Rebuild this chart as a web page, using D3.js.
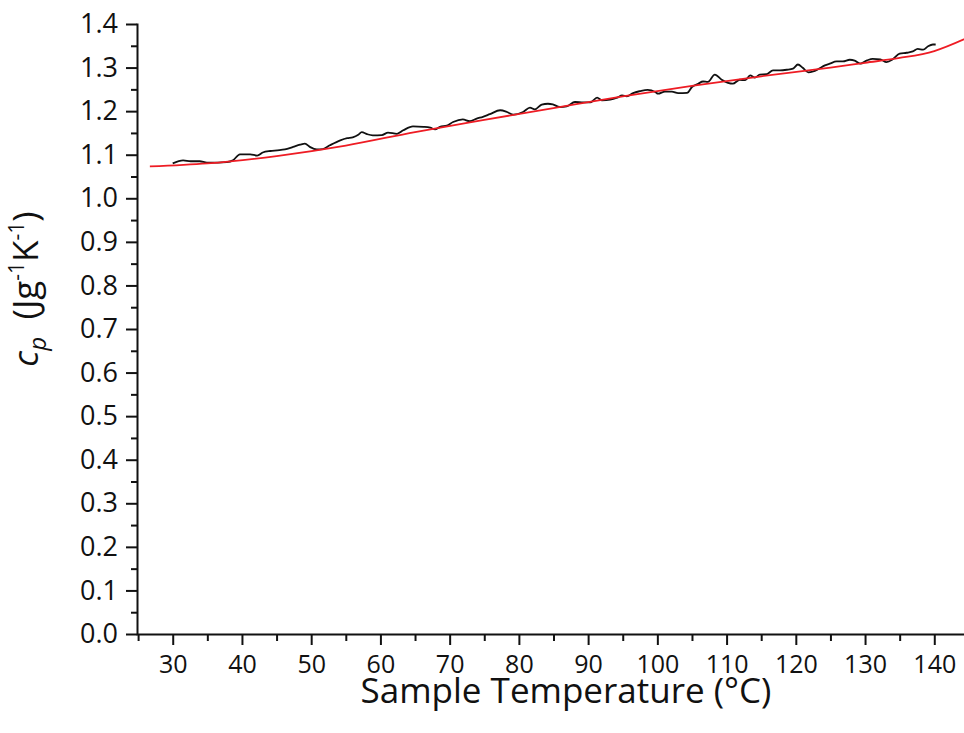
<!DOCTYPE html>
<html><head><meta charset="utf-8">
<script src="https://cdn.jsdelivr.net/npm/d3@7"></script>
<style>
body{margin:0;background:#fff;}
text{font-family:"Open Sans",sans-serif;fill:#111;}
</style></head><body>
<svg id="chart" width="964" height="733"></svg>
<script>
// measured curve (black)
const temps = [30.0,31.5,32.6,33.9,34.95,36.5,37.8,38.7,39.7,41.2,42.2,43.0,44.1,45.1,46.2,47.4,48.4,49.1,49.8,50.8,51.7,52.7,54.2,55.2,56.0,56.8,57.3,58.1,58.9,60.2,61.1,62.4,63.3,64.7,66.2,67.2,67.9,68.6,69.6,70.5,71.9,72.9,73.9,74.8,75.8,77.3,78.3,79.2,80.6,81.6,82.3,83.3,84.2,84.9,85.9,86.9,88.1,89.3,90.3,91.3,92.0,93.2,94.2,94.9,95.6,96.5,97.5,98.6,99.7,100.1,101.1,102.1,103.0,104.3,105.0,105.9,106.6,107.3,108.3,109.3,110.2,110.9,111.9,112.7,113.4,114.1,114.8,115.8,116.7,117.7,118.7,119.6,120.3,121.0,121.8,122.5,123.2,124.2,124.9,125.9,126.8,127.8,128.5,129.3,130.3,131.1,132.2,133.1,134.0,135.0,136.0,136.9,137.6,138.4,139.1,139.8,140.2];
const cpMeasured = [1.080,1.087,1.085,1.085,1.082,1.082,1.083,1.087,1.101,1.101,1.098,1.105,1.1085,1.110,1.112,1.118,1.123,1.1254,1.118,1.112,1.113,1.1216,1.133,1.138,1.140,1.146,1.152,1.147,1.1445,1.145,1.1506,1.148,1.156,1.165,1.164,1.162,1.158,1.164,1.167,1.175,1.181,1.177,1.183,1.187,1.193,1.202,1.198,1.192,1.198,1.208,1.204,1.215,1.217,1.2155,1.2095,1.211,1.221,1.220,1.220,1.231,1.2248,1.2263,1.231,1.236,1.234,1.2415,1.246,1.249,1.244,1.240,1.245,1.245,1.2415,1.242,1.2555,1.263,1.268,1.267,1.284,1.272,1.265,1.263,1.272,1.271,1.282,1.277,1.284,1.285,1.2936,1.2936,1.295,1.2975,1.307,1.2997,1.289,1.291,1.296,1.305,1.309,1.314,1.314,1.318,1.316,1.309,1.3165,1.320,1.319,1.3127,1.319,1.332,1.334,1.337,1.343,1.341,1.349,1.353,1.353];
// fitted curve (red)
const fitTemps = [26.7,35,45,55,65,75,85,95,105,115,125,130,135,140,145];
const fitCp = [1.073,1.080,1.097,1.121,1.152,1.180,1.207,1.234,1.258,1.280,1.300,1.311,1.322,1.338,1.370];
const xTicks = [30,40,50,60,70,80,90,100,110,120,130,140];
const xMinor = [25,35,45,55,65,75,85,95,105,115,125,135,145];
const yTicks = [0,0.1,0.2,0.3,0.4,0.5,0.6,0.7,0.8,0.9,1.0,1.1,1.2,1.3,1.4];
const yMinor = [0.05,0.15,0.25,0.35,0.45,0.55,0.65,0.75,0.85,0.95,1.05,1.15,1.25,1.35];

const svg = d3.select("#chart");
const x = d3.scaleLinear().domain([25,145]).range([138.1,968.9]);
const y = d3.scaleLinear().domain([0,1.4]).range([634,24]);

// minor ticks
svg.append("g").attr("transform","translate(0,634)")
  .call(d3.axisBottom(x).tickValues(xMinor).tickSize(7).tickFormat(""))
  .call(g=>g.select(".domain").remove());
svg.append("g").attr("transform","translate(137,0)")
  .call(d3.axisLeft(y).tickValues(yMinor).tickSize(6).tickFormat(""))
  .call(g=>g.select(".domain").remove());

const xa = svg.append("g").attr("class","xa").attr("transform","translate(0,634)")
  .call(d3.axisBottom(x).tickValues(xTicks).tickSize(11).tickSizeOuter(0).tickPadding(10).tickFormat(d3.format("d")));
const ya = svg.append("g").attr("class","ya").attr("transform","translate(137,0)")
  .call(d3.axisLeft(y).tickValues(yTicks).tickSize(11).tickSizeOuter(0).tickPadding(8).tickFormat(d3.format(".1f")));
svg.selectAll(".tick line, .domain").attr("stroke","#111").attr("stroke-width",2);
svg.selectAll(".domain").attr("stroke-linecap","square");
svg.selectAll(".xa .tick text").attr("font-size",25).style("font-size","25px").attr("fill","#111");
svg.selectAll(".ya .tick text").attr("font-size",27).style("font-size","27px").attr("fill","#111");
svg.selectAll(".tick text").attr("font-family","'Open Sans',sans-serif");

const line = d3.line().x(d=>x(d[0])).y(d=>y(d[1]));
svg.append("path").datum(temps.map((t,i)=>[t,cpMeasured[i]]))
  .attr("fill","none").attr("stroke","#111").attr("stroke-width",1.8)
  .attr("d", line.curve(d3.curveMonotoneX));
svg.append("path").datum(fitTemps.map((t,i)=>[t,fitCp[i]]))
  .attr("fill","none").attr("stroke","#ee1c24").attr("stroke-width",1.8)
  .attr("d", d3.line().x(d=>x(d[0])).y(d=>y(d[1])).curve(d3.curveMonotoneX));

svg.append("text").attr("x",566).attr("y",703).attr("text-anchor","middle")
  .style("font-size","35px").text("Sample Temperature (°C)");

const yt = svg.append("text").attr("transform","translate(38,289) rotate(-90)")
  .attr("text-anchor","middle").style("font-size","35px");
yt.append("tspan").style("font-style","italic").text("c");
yt.append("tspan").style("font-style","italic").style("font-size","24px").attr("dy",8).text("p");
yt.append("tspan").attr("dy",-8).text("\u2002(Jg");
yt.append("tspan").style("font-size","21px").attr("dy",-14).text("-1");
yt.append("tspan").attr("dy",14).text("K");
yt.append("tspan").style("font-size","21px").attr("dy",-14).text("-1");
yt.append("tspan").attr("dy",14).text(")");
</script>
</body></html>
